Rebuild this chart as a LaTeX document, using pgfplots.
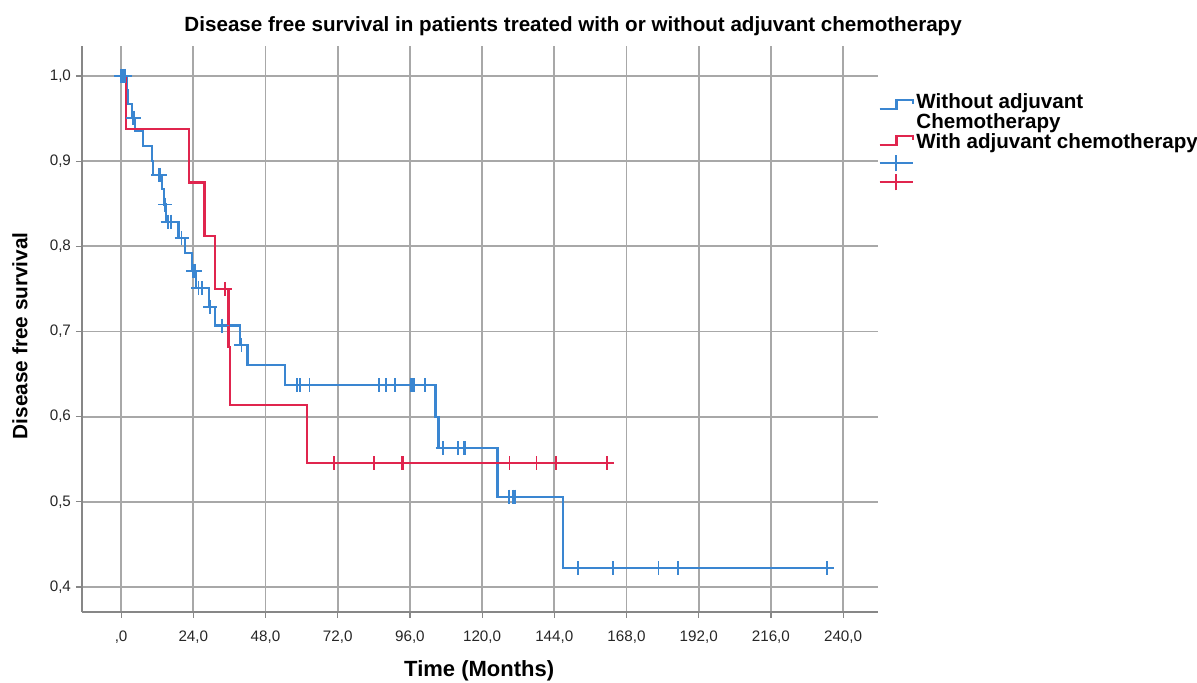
\documentclass[border=0pt]{standalone}
\usepackage{pgfplots}
\pgfplotsset{compat=1.18}
\usepackage{fontspec}
\setmainfont{Liberation Sans}
\definecolor{kmblue}{RGB}{58,134,209}
\definecolor{kmred}{RGB}{224,37,78}
\definecolor{gridgray}{RGB}{168,168,168}
\definecolor{axgray}{RGB}{135,135,135}
\begin{document}
\begin{tikzpicture}
\useasboundingbox (-41pt,-35.5pt) rectangle (557.5pt,306pt);
\begin{axis}[
  at={(0pt,0pt)}, anchor=south west,
  scale only axis, width=398pt, height=283pt,
  xmin=-13, xmax=251.6, ymin=0.3706, ymax=1.0352,
  axis x line=bottom, axis y line=left,
  axis line style={-, draw=axgray, line width=0.8pt},
  xtick={0,24,48,72,96,120,144,168,192,216,240},
  xticklabels={{,0},{24,0},{48,0},{72,0},{96,0},{120,0},{144,0},{168,0},{192,0},{216,0},{240,0}},
  ytick={0.4,0.5,0.6,0.7,0.8,0.9,1.0},
  yticklabels={{0,4},{0,5},{0,6},{0,7},{0,8},{0,9},{1,0}},
  tick label style={font=\fontsize{7.6}{9}\selectfont, text=black!85},
  xticklabel style={yshift=-3pt},
  yticklabel style={xshift=1pt},
  grid=major, major grid style={draw=gridgray, line width=0.9pt},
  tick style={draw=axgray, line width=0.6pt}, major tick length=3pt, tick align=outside,
  every axis title shift=0pt,
  title={Disease free survival in patients treated with or without adjuvant chemotherapy},
  title style={at={(axis description cs:0.617,1.035)}, anchor=center, font=\bfseries\fontsize{10.3}{12}\selectfont},
  xlabel={Time (Months)},
  xlabel style={at={(axis description cs:0.499,-0.104)}, anchor=center, font=\bfseries\fontsize{11}{13}\selectfont},
  ylabel={Disease free survival},
  ylabel style={at={(axis description cs:-0.078,0.488)}, anchor=center, font=\bfseries\fontsize{10.4}{12}\selectfont},
  legend style={at={(axis description cs:1.0,0.937)}, anchor=north west, draw=none, fill=none,
    font=\bfseries\fontsize{10.3}{12}\selectfont, row sep=0pt, inner sep=0pt, nodes={inner sep=1.2pt}},
  legend cell align=left,
  clip=false,
]
% Without adjuvant chemotherapy (step line)
\addplot[const plot, kmblue, line width=1.1pt, mark=none,
  legend image code/.code={\path[draw=none, fill=none] (0pt,-12.2pt) rectangle (0.1pt,12.2pt); \draw[kmblue, line width=1.1pt] (0pt,-1.4pt) -- (8.5pt,-1.4pt) -- (8.5pt,3.1pt) -- (16.7pt,3.1pt) -- (16.7pt,1.1pt);}]
coordinates {
(0,1.0) (1.9,0.984) (2.4,0.967) (3.5,0.951) (4.6,0.935) (7.4,0.918) (10.2,0.900) (10.7,0.884)
(13.5,0.867) (14.2,0.849) (15.0,0.829) (19.1,0.810) (21.3,0.792) (23.5,0.771) (24.9,0.751)
(29.3,0.729) (31.2,0.707) (39.6,0.684) (42.0,0.661) (54.5,0.637) (104.5,0.600) (105.5,0.563)
(125.1,0.506) (146.8,0.422) (235.5,0.422)
};
\addlegendentry{\begin{tabular}{@{}l@{}}Without adjuvant\\[-2.1pt]Chemotherapy\end{tabular}}
% With adjuvant chemotherapy (step line)
\addplot[const plot, kmred, line width=1.1pt, mark=none,
  legend image code/.code={\draw[kmred, line width=1.1pt] (0pt,-1.4pt) -- (8.5pt,-1.4pt) -- (8.5pt,3.1pt) -- (16.7pt,3.1pt) -- (16.7pt,1.1pt);}]
coordinates {
(0,1.0) (1.7,0.9375) (22.7,0.875) (27.7,0.8125) (31.3,0.75) (35.7,0.6818) (36.2,0.6136)
(61.9,0.5455) (162.3,0.5455)
};
\addlegendentry{With adjuvant chemotherapy}
% censored, without
\addplot[only marks, mark=+, mark size=3.5pt, kmblue, mark options={line width=0.9pt},
  legend image code/.code={\draw[kmblue, line width=1.1pt] (0pt,0pt) -- (16.7pt,0pt); \draw[kmblue, line width=1.1pt] (8.35pt,-4.2pt) -- (8.35pt,4.2pt);}]
coordinates {
(0,1.0) (0.6,1.0) (1.2,1.0)
(3.9,0.951) (4.3,0.951)
(12.4,0.884) (13.0,0.884)
(14.6,0.849)
(15.5,0.829) (16.5,0.829)
(20.1,0.810)
(24.0,0.771) (24.6,0.771)
(25.7,0.751) (26.8,0.751)
(29.6,0.729)
(33.5,0.707)
(40.0,0.684)
(58.4,0.637) (59.5,0.637) (62.6,0.637) (85.6,0.637) (88.1,0.637) (91.1,0.637) (96.3,0.637) (96.8,0.637) (97.4,0.637) (101.0,0.637)
(106.9,0.563) (112.1,0.563) (113.8,0.563) (114.4,0.563)
(129.0,0.506) (130.4,0.506) (130.9,0.506)
(152.0,0.422) (163.4,0.422) (178.6,0.422) (185.2,0.422) (234.6,0.422)
};
\addlegendentry{}
% censored, with
\addplot[only marks, mark=+, mark size=3.5pt, kmred, mark options={line width=0.9pt},
  legend image code/.code={\draw[kmred, line width=1.1pt] (0pt,0pt) -- (16.7pt,0pt); \draw[kmred, line width=1.1pt] (8.35pt,-4.2pt) -- (8.35pt,4.2pt);}]
coordinates {
(34.6,0.75)
(70.8,0.5455) (84.1,0.5455) (93.5,0.5455) (93.8,0.5455) (129.1,0.5455) (138.1,0.5455) (144.6,0.5455) (161.4,0.5455)
};
\addlegendentry{}
\end{axis}
\end{tikzpicture}
\end{document}
